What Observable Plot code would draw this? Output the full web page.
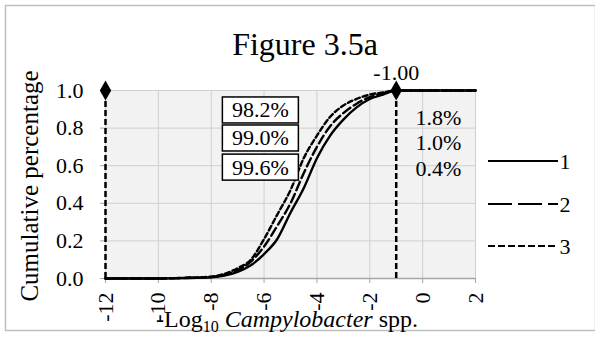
<!DOCTYPE html>
<html>
<head>
<meta charset="utf-8">
<script src="https://cdn.jsdelivr.net/npm/d3@7"></script>
<script src="https://cdn.jsdelivr.net/npm/@observablehq/plot@0.6"></script>
<style>
  body { margin: 0; background: white; }
  #chart { position: relative; width: 595px; height: 341px; }
  #chart svg, #chart svg text { font-family: "Liberation Serif", serif; }
</style>
</head>
<body>
<div id="chart"></div>
<script>
// ---- data ----
const xTicks = [-12, -10, -8, -6, -4, -2, 0, 2];
const yTicks = [0, 0.2, 0.4, 0.6, 0.8, 1.0];
const xVals = [-12, -10, -9, -8, -7.5, -7, -6.5, -6, -5.5, -5, -4.5, -4, -3.5, -3, -2.5, -2, -1.5, -1, 0, 1, 2];
const series1 = [0, 0, 0.002, 0.006, 0.015, 0.035, 0.07, 0.13, 0.21, 0.35, 0.48, 0.64, 0.76, 0.845, 0.91, 0.955, 0.978, 1.0, 1.0, 1.0, 1.0];
const series2 = [0, 0, 0.003, 0.008, 0.02, 0.045, 0.09, 0.17, 0.28, 0.40, 0.56, 0.70, 0.81, 0.88, 0.93, 0.965, 0.985, 1.0, 1.0, 1.0, 1.0];
const series3 = [0, 0, 0.004, 0.01, 0.025, 0.055, 0.10, 0.21, 0.34, 0.47, 0.64, 0.76, 0.86, 0.92, 0.955, 0.978, 0.99, 1.0, 1.0, 1.0, 1.0];
const seriesNames = ["1", "2", "3"];
const markerX = [-12, -1];
const markerY = [1.0, 1.0];
const markerLabel = "-1.00";
const leftPcts = ["98.2%", "99.0%", "99.6%"];
const rightPcts = ["1.8%", "1.0%", "0.4%"];
const titleText = "Figure 3.5a";
const yLabel = "Cumulative percentage";

// ---- styles ----
const dashes = [null, "9,4", "5,3"];
const legendDashes = [null, "24,6", "7,3"];
const font = "Liberation Serif";

const seriesData = [series1, series2, series3].map((s, k) =>
  xVals.map((x, i) => ({x, y: s[i], k})));

// annotation anchor positions (data space)
const boxX = -6.14, boxYs = [0.894, 0.745, 0.59];
const rightX = -0.27, rightYs = [0.856, 0.723, 0.585];

const plot = Plot.plot({
  width: 595, height: 341,
  marginLeft: 105, marginRight: 120, marginTop: 90, marginBottom: 63,
  x: {domain: [-12, 2]},
  y: {domain: [0, 1]},
  style: {fontFamily: font, fontSize: "22px", color: "black", background: "white", overflow: "visible"},
  marks: [
    Plot.frame({fill: "#f2f2f2", stroke: null}),
    Plot.gridX(xTicks, {stroke: "#cfcfcf", strokeOpacity: 1, strokeWidth: 1}),
    Plot.gridY(yTicks, {stroke: "#cfcfcf", strokeOpacity: 1, strokeWidth: 1}),
    Plot.axisX(xTicks, {tickRotate: -90, tickFormat: d => String(d), tickSize: 5, tickPadding: 9,
      stroke: "#a6a6a6", fill: "black", label: null, fontSize: 22}),
    Plot.axisY(yTicks, {tickFormat: d => d.toFixed(1), tickSize: 5, tickPadding: 17,
      stroke: "#a6a6a6", fill: "black", label: null, fontSize: 22}),
    Plot.ruleY([0], {stroke: "#a6a6a6", strokeWidth: 1.5}),
    // vertical dashed markers
    Plot.ruleX(markerX, {y1: 0, y2: 1, stroke: "black", strokeWidth: 2.5, strokeDasharray: "6,3"}),
    ...seriesData.map((d, k) => Plot.line(d, {x: "x", y: "y", stroke: "black", strokeWidth: 2.4,
      strokeDasharray: dashes[k], curve: "monotone-x"})),
    Plot.dot(markerX.map((x, i) => ({x, y: markerY[i]})), {x: "x", y: "y", symbol: "diamond", r: 6, fill: "black", stroke: null}),
    Plot.text([markerLabel], {x: markerX[1], y: markerY[1], dy: -18, fontSize: 22, fill: "black"}),
    Plot.text(leftPcts, {x: boxX, y: (d, i) => boxYs[i], fontSize: 22, fill: "black"}),
    Plot.text(rightPcts, {x: rightX, y: (d, i) => rightYs[i], textAnchor: "start", fontSize: 22, fill: "black"})
  ]
});

document.getElementById("chart").appendChild(plot);
const svg = d3.select(plot);

// boxes behind boxed labels
svg.selectAll("text").filter(function() { return leftPcts.includes(this.textContent); }).each(function() {
  const b = this.getBBox();
  const w = 76, h = 26;
  const cx = b.x + b.width / 2, cy = b.y + b.height / 2;
  const r = document.createElementNS("http://www.w3.org/2000/svg", "rect");
  r.setAttribute("x", cx - w / 2); r.setAttribute("y", cy - h / 2);
  r.setAttribute("width", w); r.setAttribute("height", h);
  r.setAttribute("fill", "white"); r.setAttribute("stroke", "black"); r.setAttribute("stroke-width", 1.5);
  const t = this.getAttribute("transform");
  if (t) r.setAttribute("transform", t);
  this.parentNode.insertBefore(r, this);
});

// outer border
svg.append("rect").attr("x", 5.5).attr("y", 5.5).attr("width", 590).attr("height", 325)
  .attr("fill", "none").attr("stroke", "#bfbfbf").attr("stroke-width", 1.5);

// title
svg.append("text").attr("x", 305).attr("y", 55).attr("text-anchor", "middle")
  .attr("font-size", 32).attr("fill", "black").text(titleText);

// y label
svg.append("text").attr("transform", "translate(38,186) rotate(-90)").attr("text-anchor", "middle")
  .attr("font-size", 25).attr("fill", "black").text(yLabel);

// x label
const xl = svg.append("text").attr("x", 287).attr("y", 327).attr("text-anchor", "middle")
  .attr("font-size", 24).attr("fill", "black");
xl.append("tspan").text("-Log");
xl.append("tspan").attr("font-size", 16).attr("dy", 5).text("10");
xl.append("tspan").attr("dy", -5).text(" ");
xl.append("tspan").attr("font-style", "italic").text("Campylobacter");
xl.append("tspan").text(" spp.");

// legend
const legY = [161, 204, 246];
const lg = svg.append("g");
seriesNames.forEach((n, k) => {
  lg.append("line").attr("x1", 488).attr("x2", 558).attr("y1", legY[k]).attr("y2", legY[k])
    .attr("stroke", "black").attr("stroke-width", 2).attr("stroke-dasharray", legendDashes[k]);
  lg.append("text").attr("x", 565).attr("y", legY[k]).attr("dy", "0.35em")
    .attr("font-size", 22).attr("fill", "black").text(n);
});
</script>
</body>
</html>
